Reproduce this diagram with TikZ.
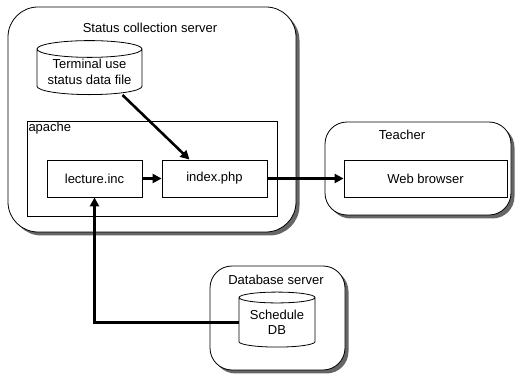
\documentclass[tikz,border=0pt]{standalone}
\usepackage{fontspec}
\setmainfont{Liberation Sans}
\usetikzlibrary{arrows.meta,shapes.geometric,shadows}
\tikzset{
  host/.style={draw,rounded corners=22pt,fill=white,inner sep=0pt,
    drop shadow={shadow xshift=3.5pt,shadow yshift=-3.5pt,fill=black!60,opacity=1}},
  comp/.style={draw,fill=white,inner sep=0pt},
  store/.style={draw,cylinder,shape border rotate=90,aspect=0.2,fill=white,
    inner sep=0pt,align=center},
  conn/.style={line width=2.6pt,-{Triangle[length=9pt,width=9pt]}},
}
\begin{document}
\begin{tikzpicture}[x=1pt,y=-1pt,font=\fontsize{13}{15.5}\selectfont,line width=0.8pt]
	\useasboundingbox (0,0) rectangle (515,374);
	% hosts
	\node[host,rounded corners=30pt,minimum width=288,minimum height=225] (server) at (152,119.5) {};
	\node[host,minimum width=186,minimum height=93] (teacher) at (418,168.5) {};
	\node[host,minimum width=135,minimum height=104] (dbsrv) at (277.5,318) {};
	\node (servertitle) at (150,28) {Status collection server};
	\node (teachertitle) at (402,135) {Teacher};
	\node (dbsrvtitle) at (276,280) {Database server};
	% apache
	\node[comp,minimum width=250,minimum height=95] (apache) at (152,168.5) {};
	\node[anchor=north west,inner sep=1.5pt] (apachelabel) at (apache.north west) {apache};
	% components
	\node[comp,minimum width=95,minimum height=37] (lecture) at (94.5,178.5) {lecture.inc};
	\node[comp,minimum width=105,minimum height=37] (index) at (214.5,178.5) {index.php};
	\node[comp,minimum width=163,minimum height=37] (browser) at (425.5,178.5) {Web browser};
	% storage
	\node[store,minimum width=105,minimum height=54] (tfile) at (89.5,72) {Terminal use\\status data file};
	\node[store,minimum width=76,minimum height=55] (sched) at (277,322.5) {Schedule\\DB};
	% connections
	\draw[conn] ([xshift=33pt]tfile.south) -- ([xshift=-25pt]index.north);
	\draw[conn] (lecture) -- (index);
	\draw[conn] (index) -- (browser);
	\draw[conn] (sched.west) -| (lecture.south);
\end{tikzpicture}
\end{document}
